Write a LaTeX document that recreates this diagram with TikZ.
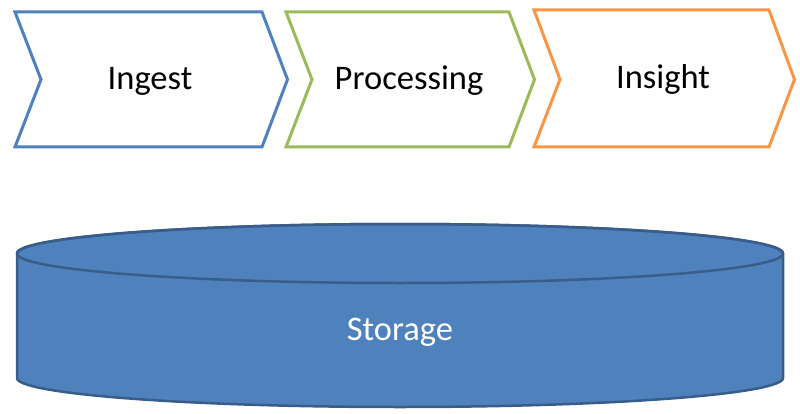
\documentclass[tikz,border=0pt]{standalone}
\usepackage{fontspec}
\setmainfont{Carlito}

\definecolor{ingestblue}{HTML}{4F81BD}
\definecolor{procgreen}{HTML}{9BBB59}
\definecolor{insorange}{HTML}{F79646}
\definecolor{storeblue}{HTML}{4F81BD}
\definecolor{storeedge}{HTML}{385D8A}

\begin{document}
\begin{tikzpicture}[x=1pt,y=1pt,
  chev/.style={draw=#1, line width=3pt, line join=miter, fill=white},
  label/.style={font=\fontsize{34.5}{40}\selectfont, anchor=base}]
  \useasboundingbox (0,0) rectangle (800,413);

  %% stages
  \foreach \l/\r/\t/\col in {15/262/401/ingestblue, 286/509/401/procgreen, 534/769/403/insorange}
    \draw[chev=\col] (\l,\t) -- (\r,\t) -- (\r+25.5,333.5) -- (\r,266) -- (\l,266) -- (\l+26,333.5) -- cycle;

  \node[label] (ingest) at (150,323) {Ingest};
  \node[label] (processing) at (409,323) {Processing};
  \node[label] (insight) at (663,324.5) {Insight};

  %% storage
  \path[fill=storeblue, draw=storeedge, line width=2.5pt]
    (17,159.5) -- (17,35) arc[start angle=180, end angle=360, x radius=383, y radius=29]
    -- (783,159.5) arc[start angle=0, end angle=180, x radius=383, y radius=29.5] -- cycle;
  \draw[storeedge, line width=2.5pt] (400,159.5) ellipse [x radius=383, y radius=29.5];

  \node[label, text=white] (storage) at (400,73) {Storage};
\end{tikzpicture}
\end{document}
